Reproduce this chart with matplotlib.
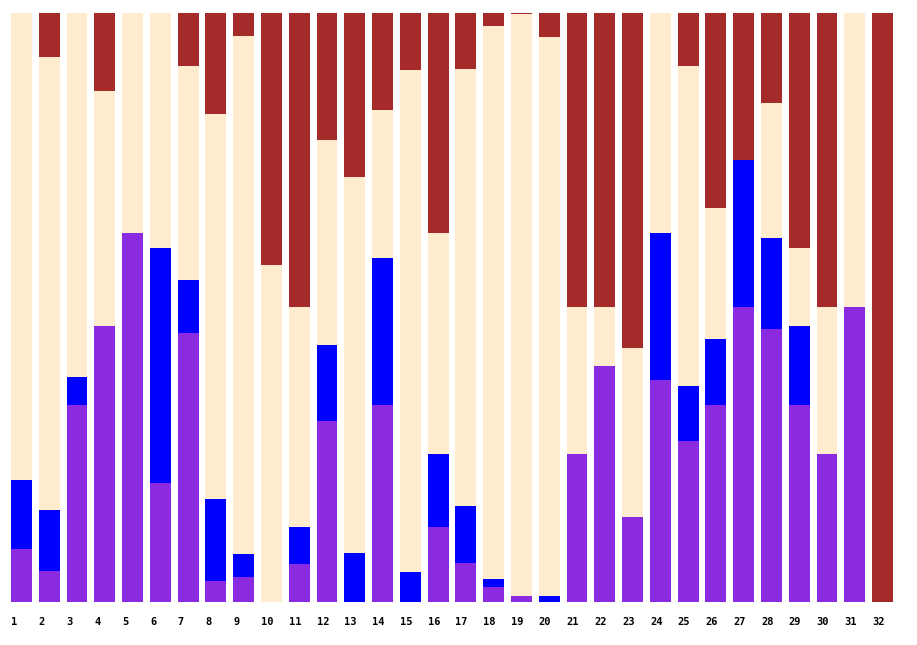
import matplotlib
matplotlib.use("Agg")
import matplotlib.pyplot as plt
import numpy as np

# segment heights (pixel-ish units, normalised to 100% below)
labels = [str(i) for i in range(1, 33)]
purple = [53, 31, 197, 276, 369, 119, 269, 21, 25, 0, 38, 181, 0, 197, 0, 75,
          39, 15, 6, 0, 148, 236, 85, 222, 161, 197, 295, 273, 197, 148, 295, 0]
blue = [69, 61, 28, 0, 0, 235, 53, 82, 23, 0, 37, 76, 49, 147, 30, 73,
        57, 8, 0, 6, 0, 0, 0, 147, 55, 66, 147, 91, 79, 0, 0, 0]
cream = [466, 453, 364, 235, 220, 235, 214, 385, 518, 337, 220, 205, 376, 148, 502, 221,
         437, 553, 576, 559, 147, 59, 169, 220, 320, 131, 0, 135, 78, 147, 294, 0]
brown = [0, 44, 0, 78, 0, 0, 53, 101, 23, 252, 294, 127, 164, 97, 57, 220,
         56, 13, 1, 24, 294, 294, 335, 0, 53, 195, 147, 90, 235, 294, 0, 589]

series = [purple, blue, cream, brown]
colors = ["#8A2BE2", "#0000FF", "#FFEBCD", "#A52A2A"]

data = np.array(series, dtype=float)
data = data / data.sum(axis=0) * 100

fig = plt.figure(figsize=(9.17, 6.45), dpi=100)
ax = fig.add_axes([11/917, 43/645, 882/917, 589/645])

x = np.arange(len(labels))
bottom = np.zeros(len(labels))
for vals, col in zip(data, colors):
    ax.bar(x, vals, width=0.75, bottom=bottom, color=col, align="edge")
    bottom += vals

ax.set_xlim(0, 31.75)
ax.set_ylim(0, 100)
ax.set_yticks([])
ax.set_xticks(x)
ax.set_xticklabels(labels, ha="left", fontfamily="DejaVu Sans Mono",
                   fontweight="bold", fontsize=7.5)
ax.tick_params(axis="x", length=0, pad=11)
for s in ax.spines.values():
    s.set_visible(False)

fig.savefig("out.png", dpi=100)
